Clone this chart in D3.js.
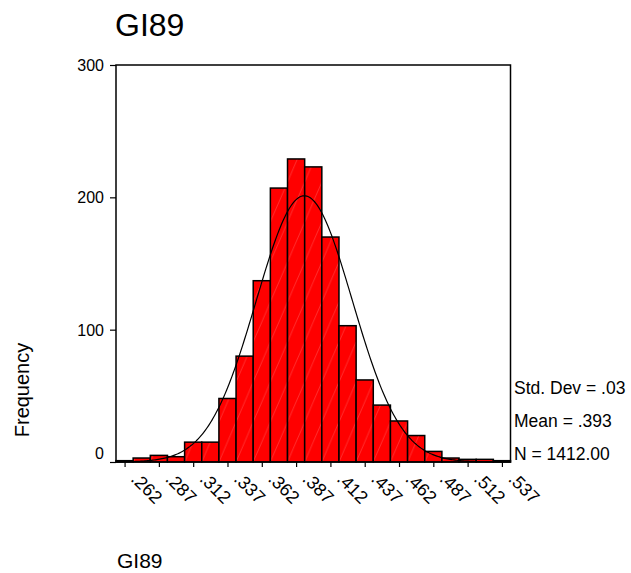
<!DOCTYPE html>
<html>
<head>
<meta charset="utf-8">
<script src="https://cdn.jsdelivr.net/npm/d3@7"></script>
<style>
body { margin: 0; background: #fff; }
text { font-family: "Liberation Sans", Arial, sans-serif; fill: #000; }
</style>
</head>
<body>
<div class="canvas"></div>
<script>
// bin midpoints (bin width .0125) and frequencies
const binMids = [0.262, 0.2745, 0.287, 0.2995, 0.312, 0.3245, 0.337, 0.3495, 0.362, 0.3745, 0.387, 0.3995,
    0.412, 0.4245, 0.437, 0.4495, 0.462, 0.4745, 0.487, 0.4995, 0.512, 0.5245, 0.537]
const counts = [1, 3, 5, 4, 15, 15, 48, 80, 137, 207, 229, 223, 170, 103, 62, 43, 31, 20, 8, 3, 2, 2, 1]

const xTickValues = [0.262, 0.287, 0.312, 0.337, 0.362, 0.387, 0.412, 0.437, 0.462, 0.487, 0.512, 0.537]
const xTickLabels = ['.262', '.287', '.312', '.337', '.362', '.387', '.412', '.437', '.462', '.487', '.512', '.537']
const yTickValues = [0, 100, 200, 300]

const statLines = ['Std. Dev = .03', 'Mean = .393', 'N = 1412.00']
const mean = 0.393
const sd = 0.035
const n = 1412
const binWidth = 0.0125

const dims = { width: 631, height: 573 }
const plot = { left: 116, right: 510.5, top: 65, bottom: 462 }

const svg = d3.select('.canvas')
    .append('svg')
    .attr('width', dims.width)
    .attr('height', dims.height)

const x = d3.scaleLinear()
    .domain([binMids[0] - binWidth / 2, binMids[binMids.length - 1] + binWidth / 2])
    .range([plot.left, plot.right])

const y = d3.scaleLinear()
    .domain([0, 300])
    .range([plot.bottom, plot.top])

const barW = x(binWidth) - x(0)

// faint diagonal hatching like the spss fill
const defs = svg.append('defs')
const pat = defs.append('pattern')
    .attr('id', 'hatch')
    .attr('patternUnits', 'userSpaceOnUse')
    .attr('x', plot.left)
    .attr('y', plot.bottom)
    .attr('width', barW)
    .attr('height', 40)
pat.append('rect')
    .attr('width', barW).attr('height', 40)
    .attr('fill', '#ff0000')
pat.append('line')
    .attr('x1', 0).attr('y1', 40)
    .attr('x2', barW).attr('y2', 0)
    .attr('stroke', 'rgba(255,255,255,0.3)')
    .attr('stroke-width', 0.6)

// bars
svg.append('g')
    .selectAll('rect')
    .data(binMids)
    .enter()
    .append('rect')
        .attr('x', d => x(d - binWidth / 2))
        .attr('width', barW)
        .attr('y', (d, i) => y(counts[i]))
        .attr('height', (d, i) => y(0) - y(counts[i]))
        .attr('fill', 'url(#hatch)')
        .attr('stroke', '#000')
        .attr('stroke-width', 1.5)

// normal curve
const curvePts = d3.range(0, 301).map(i => {
    const v = x.domain()[0] + (x.domain()[1] - x.domain()[0]) * i / 300
    const dens = n * binWidth / (sd * Math.sqrt(2 * Math.PI)) * Math.exp(-0.5 * ((v - mean) / sd) ** 2)
    return [v, dens]
})
svg.append('path')
    .attr('d', d3.line().x(d => x(d[0])).y(d => y(d[1]))(curvePts))
    .attr('fill', 'none')
    .attr('stroke', '#000')
    .attr('stroke-width', 1.2)

// frame
svg.append('rect')
    .attr('x', plot.left).attr('y', plot.top)
    .attr('width', plot.right - plot.left)
    .attr('height', plot.bottom - plot.top)
    .attr('fill', 'none')
    .attr('stroke', '#000')
    .attr('stroke-width', 1.5)

// y axis
const yAxis = svg.append('g')
    .attr('transform', `translate(${plot.left}, 0)`)
    .call(d3.axisLeft(y).tickValues(yTickValues).tickSize(6).tickPadding(6).tickFormat(d3.format('d')))
yAxis.select('.domain').remove()
yAxis.selectAll('line').attr('stroke', '#000').attr('stroke-width', 1.2)
yAxis.selectAll('text')
    .style('font-size', '16px')
    .attr('font-family', null)
    .attr('dy', d => d === 0 ? '-0.2em' : '0.35em')

// x axis
const xAxis = svg.append('g')
    .attr('transform', `translate(0, ${plot.bottom})`)
    .call(d3.axisBottom(x).tickValues(xTickValues).tickSize(5).tickFormat((d, i) => xTickLabels[i]))
xAxis.select('.domain').remove()
xAxis.selectAll('line').attr('stroke', '#000').attr('stroke-width', 1.2)
xAxis.selectAll('text')
    .style('font-size', '18px')
    .attr('font-family', null)
    .attr('text-anchor', 'start')
    .attr('y', 0)
    .attr('dy', 0)
    .attr('transform', 'translate(5, 18) rotate(45)')

// titles
svg.append('text')
    .attr('x', 115).attr('y', 36)
    .style('font-size', '32px')
    .text('GI89')

svg.append('text')
    .attr('x', 117).attr('y', 568)
    .style('font-size', '21px')
    .text('GI89')

svg.append('text')
    .attr('transform', 'translate(29, 390) rotate(-90)')
    .attr('text-anchor', 'middle')
    .style('font-size', '20px')
    .text('Frequency')

// stats block
svg.append('g')
    .selectAll('text')
    .data(statLines)
    .enter()
    .append('text')
        .attr('x', 514)
        .attr('y', (d, i) => 394 + i * 33)
        .style('font-size', '17.5px')
        .text(d => d)
</script>
</body>
</html>
